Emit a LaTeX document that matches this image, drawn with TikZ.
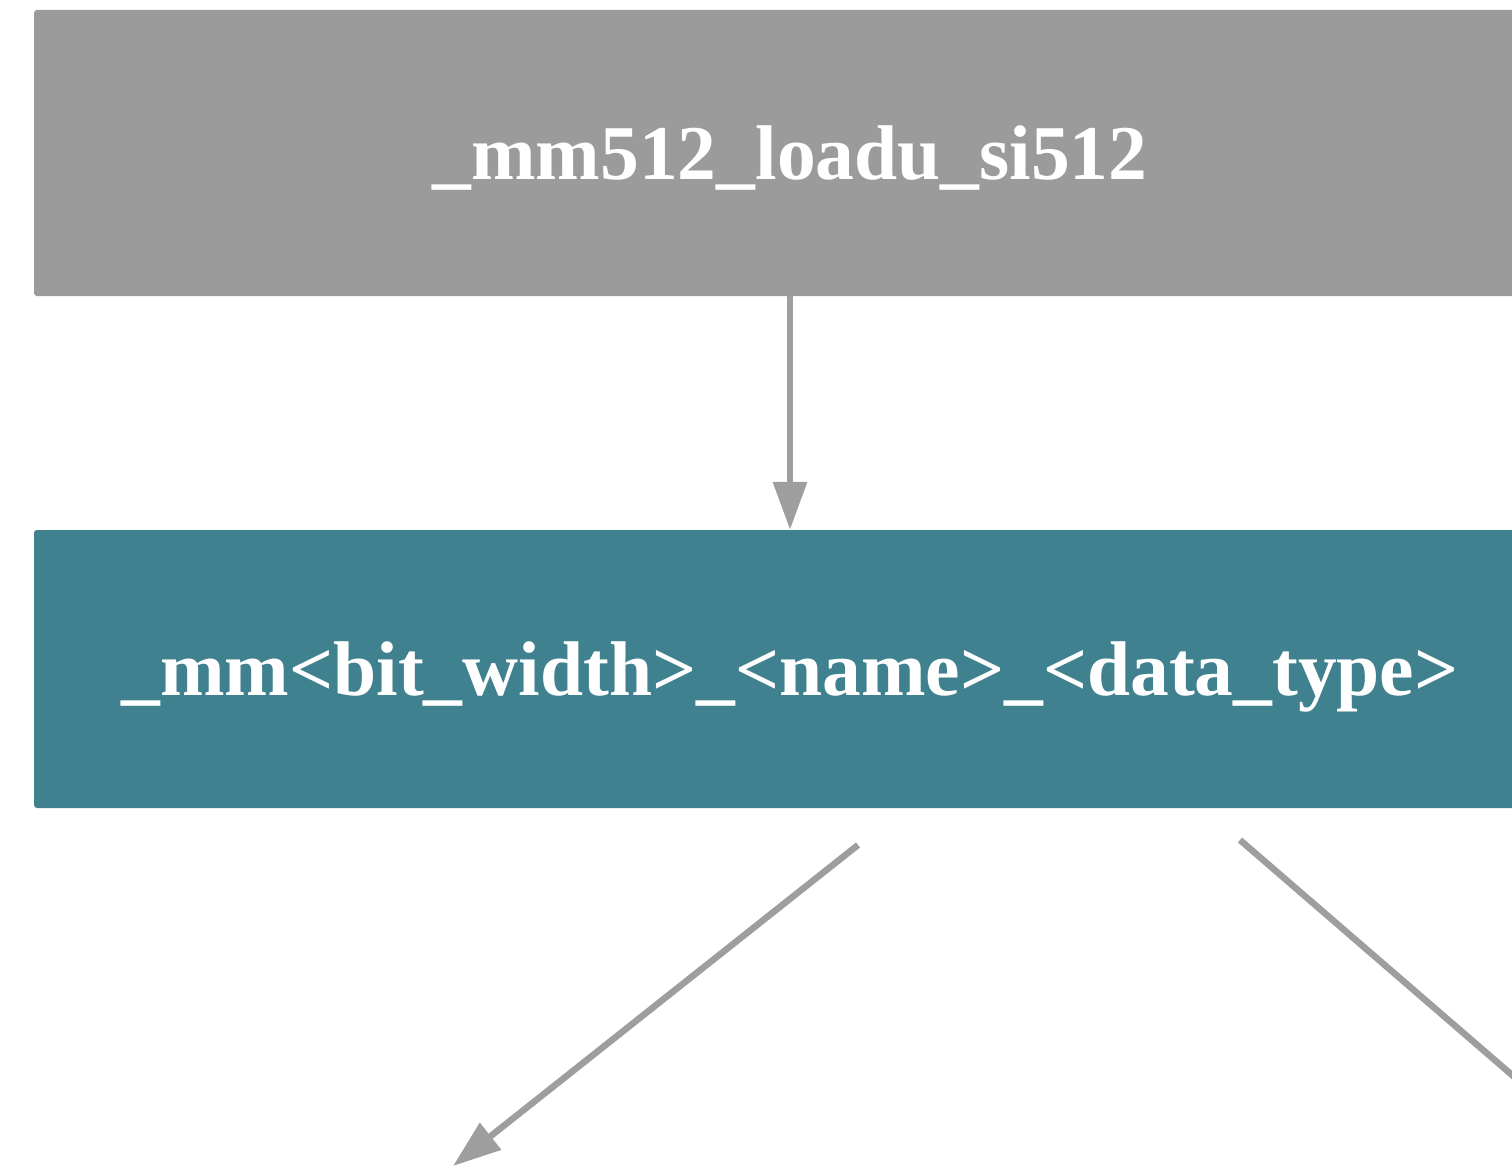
\documentclass[tikz,border=0pt]{standalone}
\usepackage{fontspec}
\setmainfont{Liberation Serif}
\usetikzlibrary{arrows.meta}
\definecolor{boxgray}{HTML}{9B9B9B}
\definecolor{boxteal}{HTML}{40818F}
\definecolor{linkgray}{HTML}{9E9E9E}
\begin{document}
\begin{tikzpicture}[x=1pt, y=1pt,
    block/.style={rectangle, rounded corners=3pt, minimum width=1512pt,
      inner sep=0pt, text=white, text height=53pt, text depth=0pt,
      font=\fontsize{77.5}{90}\selectfont\bfseries},
    link/.style={draw=linkgray, line width=6.5pt,
      -{Triangle[length=48pt, width=33pt]}}]
  % the page cuts both blocks on the right
  \useasboundingbox (0,0) rectangle (1512,-1169);
  \clip (0,0) rectangle (1512,-1169);
  \node[block, fill=boxgray, minimum height=286pt] (load) at (790,-153) {\_mm512\_loadu\_si512};
  \node[block, fill=boxteal, minimum height=278pt] (pattern) at (790,-669)
    {\_mm<bit\_width>\_<name>\_<data\_type>};
  \draw[link] (load) -- (pattern);
  % two branches leave the pattern block downwards
  \coordinate (lstart) at (858,-845);
  \coordinate (lend) at (453,-1166);
  \coordinate (rstart) at (1240,-840);
  \coordinate (rend) at (1784,-1310);
  \draw[link] (lstart) -- (lend);
  \draw[link] (rstart) -- (rend);
\end{tikzpicture}
\end{document}
